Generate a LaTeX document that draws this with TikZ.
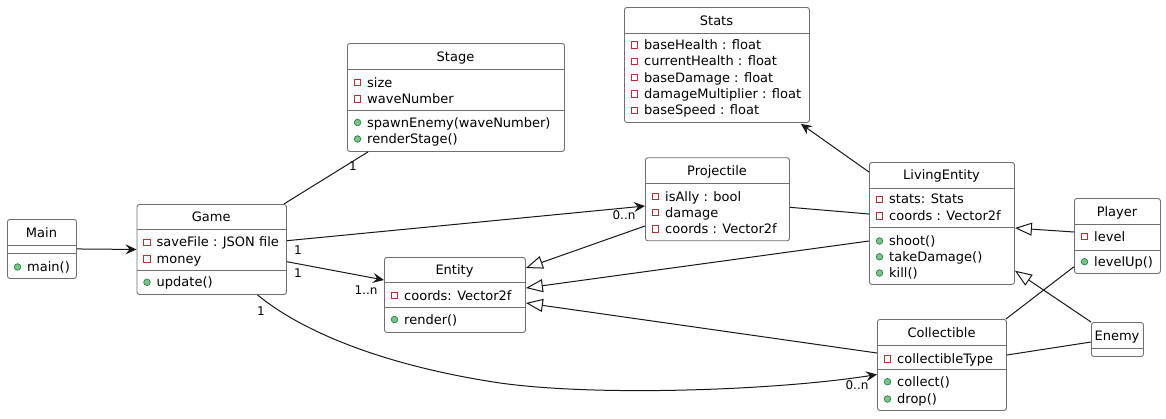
\documentclass[tikz,border=0pt]{standalone}
\usepackage{fontspec}
\setmainfont{DejaVu Sans}
\usetikzlibrary{arrows.meta,calc}
\definecolor{boxline}{RGB}{112,112,112}
\definecolor{privred}{RGB}{200,41,48}
\definecolor{pubfill}{RGB}{132,190,132}
\definecolor{publine}{RGB}{3,128,72}
\definecolor{edge}{RGB}{24,24,24}
\tikzset{
  cls/.style={draw=boxline, line width=0.9pt, rounded corners=2.5pt, fill=white, anchor=north west, inner sep=0pt},
  txt/.style={inner sep=0pt, font=\fontsize{13}{15}\selectfont, anchor=base west},
  ttl/.style={inner sep=0pt, font=\fontsize{13}{15}\selectfont, anchor=base},
  mult/.style={inner sep=0pt, font=\fontsize{12}{14}\selectfont, anchor=base},
  sepline/.style={draw=boxline, line width=0.9pt},
  privicon/.style={draw=privred, line width=0.9pt},
  pubicon/.style={fill=pubfill, draw=publine, line width=0.6pt},
  link/.style={draw=edge, line width=1pt},
  assoc/.style={link, -{Stealth[length=11pt,width=10pt,inset=4pt]}},
  inherit/.style={link, -{Triangle[open,length=17pt,width=13pt,fill=white]}},
}
% #1 name, #2 x, #3 y, #4 w, #5 h
\newcommand{\umlbox}[5]{\node[cls, minimum width=#4pt, minimum height=#5pt] (#1) at (#2,#3) {};}
\newcommand{\sepat}[3]{\draw[sepline] (#1,#3) -- (#2,#3);}
% #1 name, #2 box left x, #3 row y, #4 text
\newcommand{\pv}[4]{\draw[privicon] (#2+7.3,#3-3.2) rectangle (#2+13.7,#3+3.2); \node[txt] (#1) at (#2+20,#3+4.5) {#4};}
\newcommand{\pb}[4]{\draw[pubicon] (#2+10.5,#3) circle (3.3pt); \node[txt] (#1) at (#2+20,#3+4.5) {#4};}
\begin{document}
\begin{tikzpicture}[x=1pt,y={(0pt,-1pt)}]
\useasboundingbox[fill=white] (0,0) rectangle (1166,418);

% ---------- classes ----------
% Main
\umlbox{main}{7}{219}{69}{59}
\node[ttl] (main-t) at (41.5,237) {Main};
\sepat{7}{76}{245} \sepat{7}{76}{253}
\pb{main-m1}{7}{267}{main()}

% Game
\umlbox{game}{136.5}{204}{149.5}{90}
\node[ttl] (game-t) at (211.25,221) {Game};
\sepat{136.5}{286}{229.5}
\pv{game-a1}{136.5}{242.3}{saveFile : JSON file}
\pv{game-a2}{136.5}{259}{money}
\sepat{136.5}{286}{270.3}
\pb{game-m1}{136.5}{282.3}{update()}

% Stage
\umlbox{stage}{347}{43}{217}{108}
\node[ttl] (stage-t) at (455.5,61) {Stage};
\sepat{347}{564}{69.3}
\pv{stage-a1}{347}{82.5}{size}
\pv{stage-a2}{347}{99}{waveNumber}
\sepat{347}{564}{110.7}
\pb{stage-m1}{347}{122.5}{spawnEnemy(waveNumber)}
\pb{stage-m2}{347}{139}{renderStage()}

% Stats
\umlbox{stats}{624}{7}{185}{115}
\node[ttl] (stats-t) at (716.5,25.5) {Stats};
\sepat{624}{809}{33}
\pv{stats-a1}{624}{45}{baseHealth : float}
\pv{stats-a2}{624}{61.3}{currentHealth : float}
\pv{stats-a3}{624}{77.6}{baseDamage : float}
\pv{stats-a4}{624}{93.9}{damageMultiplier : float}
\pv{stats-a5}{624}{110.2}{baseSpeed : float}

% Projectile
\umlbox{proj}{645}{157.3}{144}{83}
\node[ttl] (proj-t) at (717,175) {Projectile};
\sepat{645}{789}{183.3}
\pv{proj-a1}{645}{196.7}{isAlly : bool}
\pv{proj-a2}{645}{212.7}{damage}
\pv{proj-a3}{645}{229}{coords : Vector2f}

% LivingEntity
\umlbox{living}{869}{162}{145}{122}
\node[ttl] (living-t) at (941.5,179) {LivingEntity};
\sepat{869}{1014}{188}
\pv{living-a1}{869}{199.3}{stats: Stats}
\pv{living-a2}{869}{216}{coords : Vector2f}
\sepat{869}{1014}{227}
\pb{living-m1}{869}{241}{shoot()}
\pb{living-m2}{869}{256.8}{takeDamage()}
\pb{living-m3}{869}{273}{kill()}

% Player
\umlbox{player}{1074}{198}{86}{75}
\node[ttl] (player-t) at (1117,216) {Player};
\sepat{1074}{1160}{224}
\pv{player-a1}{1074}{236.7}{level}
\sepat{1074}{1160}{250}
\pb{player-m1}{1074}{261.7}{levelUp()}

% Entity
\umlbox{entity}{384}{257}{141}{75}
\node[ttl] (entity-t) at (454.5,274) {Entity};
\sepat{384}{525}{282}
\pv{entity-a1}{384}{295.5}{coords: Vector2f}
\sepat{384}{525}{307}
\pb{entity-m1}{384}{319.5}{render()}

% Collectible
\umlbox{coll}{877}{319}{129}{91}
\node[ttl] (coll-t) at (941.5,337) {Collectible};
\sepat{877}{1006}{345}
\pv{coll-a1}{877}{359}{collectibleType}
\sepat{877}{1006}{369}
\pb{coll-m1}{877}{381.7}{collect()}
\pb{coll-m2}{877}{399}{drop()}

% Enemy
\umlbox{enemy}{1091}{322}{52}{34}
\node[ttl] (enemy-t) at (1117,340) {Enemy};
\sepat{1091}{1143}{348}

% ---------- connectors ----------
\draw[assoc] (main.east) -- (game.west);
\draw[link] ($(game.north east)+(-3,0)$) -- ($(stage.south west)+(21,0)$);
\draw[assoc] ($(game.north east)+(0,36.7)$) -- ($(proj.north west)+(0,48.7)$);
\draw[assoc] ($(game.north east)+(0,57.7)$) -- ($(entity.north west)+(0,23)$);
\draw[assoc] ($(game.south west)+(121,0)$) .. controls (300,330) and (380,365) .. (500,383)
   .. controls (600,397) and (780,390) .. ($(coll.north west)+(0,55.5)$);

\draw[inherit] ($(proj.north west)+(0,68.7)$) -- ($(entity.north east)+(0,11)$);
\draw[inherit] ($(living.north west)+(0,79)$) -- ($(entity.north east)+(0,31)$);
\draw[inherit] ($(coll.north west)+(0,34)$) -- ($(entity.north east)+(0,46)$);

\draw[link] ($(proj.north east)+(0,50)$) -- ($(living.north west)+(0,52)$);
\draw[assoc] ($(living.north west)+(0,10)$) -- ($(stats.south east)+(-9,1)$);

\draw[inherit] ($(player.north west)+(0,34)$) -- ($(living.north east)+(0,66)$);
\draw[inherit] (enemy.north west) -- ($(living.north east)+(0,108.7)$);
\draw[link] ($(coll.north east)+(-1,0)$) -- ($(player.north west)+(0,68.7)$);
\draw[link] ($(coll.north east)+(0,36)$) -- ($(enemy.north west)+(0,20)$);

% ---------- multiplicities ----------
\node[mult] (m-stage) at (353,170) {1};
\node[mult] (m-gp) at (298,254) {1};
\node[mult] (m-pg) at (624,219) {0..n};
\node[mult] (m-ge) at (298,277) {1};
\node[mult] (m-eg) at (366,294) {1..n};
\node[mult] (m-gc) at (261,315) {1};
\node[mult] (m-cg) at (857,389) {0..n};
\end{tikzpicture}
\end{document}
